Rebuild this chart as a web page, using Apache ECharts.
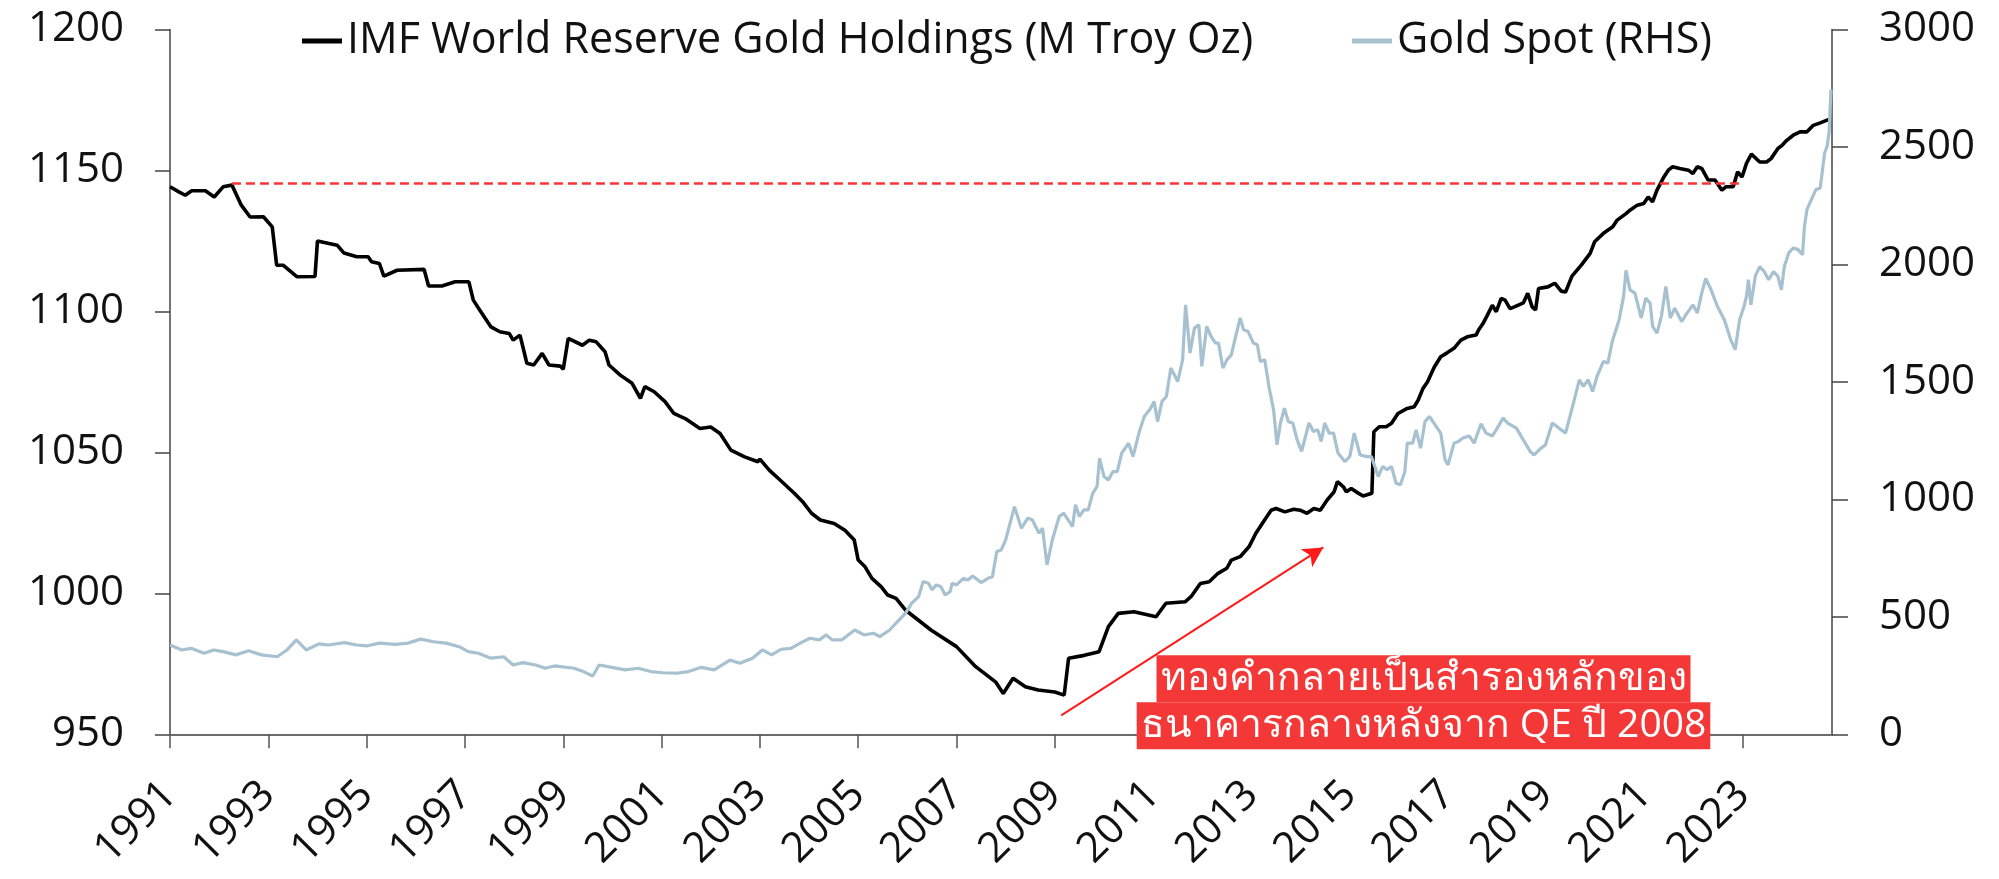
<!DOCTYPE html>
<html><head><meta charset="utf-8">
<script src="https://cdn.jsdelivr.net/npm/echarts@6/dist/echarts.min.js"></script>
<style>html,body{margin:0;padding:0;background:#fff}#c{width:1999px;height:879px}</style>
</head><body><div id="c"></div>
<script>
// IMF World Reserve Gold Holdings (M Troy Oz)
const imfYears = [1991.00,1991.18,1991.31,1991.44,1991.72,1991.90,1992.08,1992.26,1992.45,1992.63,1992.90,1993.08,1993.17,1993.30,1993.58,1993.95,1994.00,1994.40,1994.54,1994.80,1995.03,1995.10,1995.26,1995.35,1995.62,1996.17,1996.26,1996.53,1996.80,1997.08,1997.17,1997.30,1997.53,1997.71,1997.90,1997.98,1998.12,1998.26,1998.40,1998.57,1998.71,1998.94,1999.00,1999.10,1999.39,1999.53,1999.67,1999.85,1999.93,2000.16,2000.40,2000.57,2000.66,2000.85,2001.07,2001.25,2001.48,2001.78,2002.00,2002.19,2002.41,2002.69,2002.96,2003.00,2003.19,2003.41,2003.70,2003.87,2004.05,2004.23,2004.51,2004.73,2004.92,2005.00,2005.14,2005.28,2005.47,2005.60,2005.77,2005.96,2006.48,2007.00,2007.39,2007.80,2007.95,2008.15,2008.40,2008.66,2009.00,2009.19,2009.28,2009.60,2009.90,2010.09,2010.29,2010.61,2011.06,2011.26,2011.65,2011.77,2011.96,2012.14,2012.32,2012.50,2012.59,2012.77,2012.95,2013.09,2013.22,2013.40,2013.50,2013.68,2013.86,2013.99,2014.13,2014.27,2014.40,2014.54,2014.68,2014.75,2014.87,2014.93,2015.03,2015.13,2015.27,2015.45,2015.49,2015.60,2015.74,2015.85,2015.98,2016.17,2016.31,2016.39,2016.49,2016.58,2016.72,2016.85,2016.98,2017.12,2017.26,2017.39,2017.57,2017.62,2017.71,2017.80,2017.90,2017.98,2018.08,2018.16,2018.26,2018.35,2018.53,2018.62,2018.71,2018.78,2018.84,2019.03,2019.17,2019.30,2019.39,2019.52,2019.71,2019.89,2019.98,2020.16,2020.35,2020.44,2020.62,2020.70,2020.85,2020.98,2021.07,2021.16,2021.25,2021.39,2021.48,2021.57,2021.71,2021.89,2021.98,2022.07,2022.16,2022.29,2022.43,2022.57,2022.65,2022.80,2022.89,2022.98,2023.07,2023.17,2023.34,2023.48,2023.57,2023.71,2023.80,2023.89,2024.02,2024.16,2024.30,2024.43,2024.57,2024.75];
const imfValues = [1144.2,1142.4,1141.2,1142.8,1142.8,1140.6,1144.2,1144.8,1137.7,1133.5,1133.6,1130.0,1116.4,1116.4,1112.3,1112.4,1125.0,1123.5,1120.7,1119.4,1119.4,1117.6,1117.0,1112.5,1114.6,1114.9,1109.0,1109.0,1110.5,1110.5,1104.0,1100.5,1094.5,1092.8,1092.2,1089.8,1091.6,1081.6,1081.0,1085.1,1081.0,1080.6,1079.5,1090.4,1088.0,1089.8,1089.2,1085.7,1081.0,1077.4,1074.5,1069.2,1073.3,1071.5,1068.0,1063.8,1062.0,1058.5,1059.0,1056.7,1050.8,1048.4,1046.7,1047.6,1043.7,1040.2,1035.5,1032.5,1028.4,1026.0,1024.8,1022.4,1018.9,1011.8,1009.4,1005.3,1002.3,999.4,998.2,994.1,987.0,981.1,974.0,968.5,964.5,969.9,966.9,965.7,965.0,963.9,977.0,978.0,979.3,988.2,992.9,993.5,991.7,996.5,997.0,998.8,1003.5,1004.1,1007.1,1008.9,1011.8,1013.0,1016.5,1021.3,1024.8,1029.5,1030.1,1028.9,1029.8,1029.5,1028.4,1030.1,1029.5,1033.1,1036.0,1039.6,1037.8,1036.0,1037.2,1036.0,1034.5,1035.5,1057.3,1059.1,1059.1,1060.3,1063.8,1065.6,1066.2,1068.5,1072.7,1075.0,1080.3,1083.9,1085.3,1086.9,1089.8,1091.0,1091.6,1093.4,1095.7,1098.7,1102.2,1099.9,1104.6,1104.0,1101.0,1101.6,1103.0,1106.4,1101.6,1100.5,1108.1,1108.7,1110.0,1107.2,1106.9,1112.5,1116.4,1120.6,1124.7,1127.7,1130.0,1132.4,1134.7,1135.9,1137.7,1138.3,1140.6,1138.9,1143.0,1147.7,1150.1,1151.3,1150.7,1150.1,1148.9,1151.3,1150.7,1146.6,1146.6,1143.0,1144.2,1144.2,1149.5,1147.7,1152.5,1155.8,1153.0,1153.0,1154.2,1157.8,1159.0,1160.7,1162.5,1163.7,1163.7,1166.0,1166.9,1168.1];
// Gold Spot (RHS)
const goldYears = [1991.00,1991.24,1991.43,1991.69,1991.89,1992.08,1992.34,1992.60,1992.86,1993.18,1993.38,1993.57,1993.77,1994.03,1994.22,1994.55,1994.80,1995.00,1995.26,1995.58,1995.84,1996.10,1996.36,1996.62,1996.88,1997.07,1997.27,1997.53,1997.79,1997.98,1998.18,1998.44,1998.63,1998.82,1999.22,1999.41,1999.60,1999.73,1999.99,2000.26,2000.52,2000.78,2001.03,2001.30,2001.55,2001.81,2002.07,2002.39,2002.59,2002.85,2003.05,2003.24,2003.43,2003.63,2003.82,2004.02,2004.21,2004.35,2004.47,2004.67,2004.93,2005.12,2005.31,2005.44,2005.64,2005.77,2005.96,2006.09,2006.23,2006.32,2006.43,2006.50,2006.59,2006.68,2006.77,2006.87,2006.91,2007.00,2007.14,2007.23,2007.33,2007.50,2007.64,2007.73,2007.82,2007.91,2008.00,2008.18,2008.32,2008.45,2008.54,2008.68,2008.75,2008.84,2008.95,2009.09,2009.18,2009.36,2009.42,2009.50,2009.59,2009.68,2009.77,2009.86,2009.91,2010.00,2010.09,2010.18,2010.27,2010.36,2010.50,2010.59,2010.72,2010.82,2010.95,2011.02,2011.09,2011.18,2011.27,2011.36,2011.50,2011.60,2011.66,2011.75,2011.84,2011.93,2011.99,2012.09,2012.18,2012.27,2012.33,2012.42,2012.50,2012.59,2012.77,2012.84,2012.93,2013.04,2013.12,2013.18,2013.27,2013.36,2013.45,2013.52,2013.59,2013.67,2013.75,2013.84,2013.93,2014.02,2014.17,2014.26,2014.35,2014.42,2014.49,2014.58,2014.67,2014.76,2014.90,2015.00,2015.09,2015.21,2015.35,2015.44,2015.58,2015.67,2015.76,2015.85,2015.94,2016.03,2016.12,2016.17,2016.28,2016.35,2016.44,2016.53,2016.62,2016.76,2016.85,2016.94,2017.00,2017.12,2017.21,2017.30,2017.43,2017.53,2017.67,2017.77,2017.90,2017.98,2018.12,2018.21,2018.39,2018.53,2018.67,2018.75,2018.89,2018.98,2019.12,2019.26,2019.39,2019.48,2019.55,2019.67,2019.75,2019.85,2019.94,2020.03,2020.16,2020.25,2020.34,2020.48,2020.57,2020.62,2020.70,2020.80,2020.93,2021.02,2021.11,2021.16,2021.25,2021.34,2021.43,2021.52,2021.61,2021.75,2021.84,2021.98,2022.07,2022.16,2022.24,2022.35,2022.48,2022.62,2022.75,2022.84,2022.93,2023.02,2023.07,2023.11,2023.16,2023.25,2023.34,2023.43,2023.52,2023.62,2023.71,2023.78,2023.84,2023.93,2024.02,2024.12,2024.21,2024.25,2024.30,2024.39,2024.48,2024.57,2024.66,2024.71,2024.75,2024.79];
const goldValues = [380,359,366,345,359,352,338,356,338,330,359,402,359,385,380,390,380,376,388,383,388,405,394,388,373,352,345,324,330,295,305,295,281,291,281,267,248,295,285,274,281,267,262,260,267,285,274,316,302,324,359,338,362,366,388,409,402,423,402,402,444,423,430,416,444,473,515,558,586,650,643,615,636,629,593,607,643,636,664,657,674,646,664,671,778,785,828,969,877,920,913,856,877,721,828,927,941,884,977,927,955,955,1026,1055,1175,1097,1083,1118,1118,1197,1239,1182,1289,1353,1388,1417,1331,1417,1438,1559,1502,1594,1828,1623,1729,1743,1566,1736,1693,1665,1665,1559,1594,1615,1772,1722,1715,1665,1658,1587,1594,1474,1381,1232,1325,1388,1331,1325,1253,1204,1325,1289,1296,1246,1325,1282,1282,1197,1161,1182,1282,1189,1182,1182,1097,1140,1126,1140,1069,1062,1118,1239,1239,1296,1218,1331,1353,1310,1282,1168,1147,1239,1246,1261,1270,1239,1322,1282,1270,1296,1346,1325,1303,1253,1204,1189,1218,1232,1325,1303,1282,1353,1410,1509,1481,1509,1459,1523,1587,1580,1672,1765,1864,1975,1892,1878,1772,1857,1836,1736,1708,1779,1906,1772,1814,1757,1786,1828,1793,1878,1940,1892,1821,1765,1679,1637,1765,1821,1864,1935,1828,1950,1991,1970,1935,1970,1949,1892,1991,2049,2070,2063,2041,2162,2233,2276,2318,2325,2474,2503,2560,2744];
const tickYears = [1991,1993,1995,1997,1999,2001,2003,2005,2007,2009,2011,2013,2015,2017,2019,2021,2023];
const seriesNames = ['IMF World Reserve Gold Holdings (M Troy Oz)', 'Gold Spot (RHS)'];
// annotations (data units)
const refLevel = 1145.5, refStart = 1992.26, refEnd = 2023.0;
const arrowFrom = [2009.13, 956.7], arrowTo = [2014.46, 1016.3];
const noteAt = [2016.5, 961.4];
const noteLines = ['ทองคำกลายเป็นสำรองหลักของ', 'ธนาคารกลางหลังจาก QE ปี 2008'];

const FONT = '"Open Sans", Roboto, "Noto Sans", sans-serif';
const chart = echarts.init(document.getElementById('c'), null, {renderer: 'canvas'});
const pair = (xs, ys) => xs.map((x, i) => [x, ys[i]]);
const labelStyle = {fontFamily: FONT, fontSize: 42, color: '#111'};
const legendText = {fontFamily: FONT, fontSize: 43, color: '#111', lineHeight: 46};
chart.setOption({
  animation: false,
  backgroundColor: '#fff',
  grid: {left: 170, right: 167, top: 29.5, bottom: 144.7, containLabel: false, outerBoundsMode: 'none'},
  legend: [
    {data: [seriesNames[0]], left: 297, top: 13, icon: 'rect', itemWidth: 40, itemHeight: 5, textStyle: legendText},
    {data: [seriesNames[1]], left: 1347, top: 13, icon: 'rect', itemWidth: 40, itemHeight: 5, textStyle: legendText}
  ],
  xAxis: {
    type: 'value', min: 1991, max: 2024.81,
    axisLine: {show: true, onZero: false, lineStyle: {color: '#6b6b6b', width: 2}},
    axisTick: {show: true, customValues: tickYears, length: 14, lineStyle: {color: '#555', width: 1.5}},
    axisLabel: Object.assign({customValues: tickYears, rotate: 45, margin: 54,
                              formatter: v => String(v)}, labelStyle),
    splitLine: {show: false}
  },
  yAxis: [
    {type: 'value', min: 950, max: 1200, interval: 50, position: 'left',
     axisLine: {show: true, lineStyle: {color: '#444', width: 1.5}},
     axisTick: {show: true, length: 15, lineStyle: {color: '#444', width: 1.5}},
     axisLabel: Object.assign({margin: 46, formatter: v => String(v)}, labelStyle), splitLine: {show: false}},
    {type: 'value', min: 0, max: 3000, interval: 500, position: 'right',
     axisLine: {show: true, lineStyle: {color: '#444', width: 1.5}},
     axisTick: {show: true, length: 16, lineStyle: {color: '#444', width: 1.5}},
     axisLabel: Object.assign({margin: 47, formatter: v => String(v)}, labelStyle), splitLine: {show: false}}
  ],
  series: [
    {name: seriesNames[0], type: 'line', yAxisIndex: 0, data: pair(imfYears, imfValues),
     showSymbol: false, symbol: 'none', color: '#000', lineStyle: {color: '#000', width: 3.6}, z: 2,
     markLine: {silent: true, animation: false, label: {show: false},
       data: [
         [{coord: [refStart, refLevel], symbol: 'none', lineStyle: {color: '#ff3333', width: 2.5, type: [9, 5]}},
          {coord: [refEnd, refLevel], symbol: 'none'}],
         [{coord: arrowFrom, symbol: 'none', lineStyle: {color: '#ff1a1a', width: 2, type: 'solid'}},
          {coord: arrowTo, symbol: 'arrow', symbolSize: [16, 20]}]
       ]},
     markPoint: {silent: true, animation: false, symbolSize: 0,
       data: [{coord: noteAt, label: {show: true, position: 'inside',
         formatter: '{a|' + noteLines[0] + '}\n{a|' + noteLines[1] + '}',
         rich: {a: {fontFamily: FONT, fontSize: 39, color: '#fff', backgroundColor: '#f43838',
                    height: 47, lineHeight: 47, padding: [0, 4], align: 'center'}}}}]}
    },
    {name: seriesNames[1], type: 'line', yAxisIndex: 1, data: pair(goldYears, goldValues),
     showSymbol: false, symbol: 'none', color: '#a7c1d0', lineStyle: {color: '#a7c1d0', width: 3.2}, z: 3}
  ]
});
</script></body></html>
